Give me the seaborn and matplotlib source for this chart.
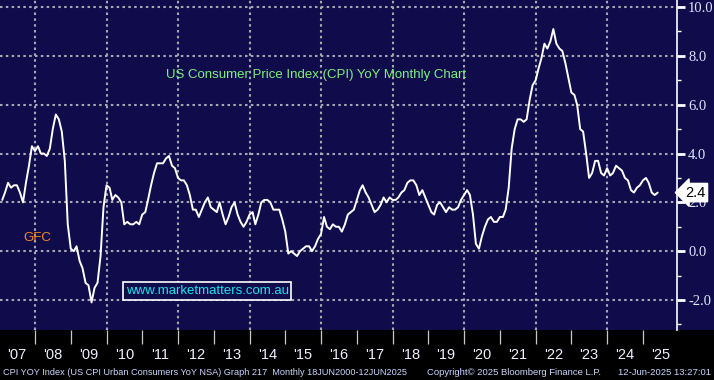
import datetime as dt
import pandas as pd
import matplotlib
matplotlib.use("Agg")
import matplotlib.pyplot as plt
import matplotlib.dates as mdates
import matplotlib.transforms as mtransforms
from matplotlib.patches import Rectangle
from matplotlib.ticker import MultipleLocator, NullFormatter
import seaborn as sns

# ---- DATA: US CPI YoY (%), monthly, Jan 2007 .. May 2025 ----
cpi_2007 = [2.1, 2.4, 2.8, 2.6, 2.7, 2.7, 2.4, 2.0, 2.8, 3.5, 4.3, 4.1]
cpi_2008 = [4.3, 4.0, 4.0, 3.9, 4.2, 5.0, 5.6, 5.4, 4.9, 3.7, 1.1, 0.1]
cpi_2009 = [0.0, 0.2, -0.4, -0.7, -1.3, -1.4, -2.1, -1.5, -1.3, -0.2, 1.8, 2.7]
cpi_2010 = [2.6, 2.1, 2.3, 2.2, 2.0, 1.1, 1.2, 1.1, 1.1, 1.2, 1.1, 1.5]
cpi_2011 = [1.6, 2.1, 2.7, 3.2, 3.6, 3.6, 3.6, 3.8, 3.9, 3.5, 3.4, 3.0]
cpi_2012 = [2.9, 2.9, 2.7, 2.3, 1.7, 1.7, 1.4, 1.7, 2.0, 2.2, 1.8, 1.7]
cpi_2013 = [1.6, 2.0, 1.5, 1.1, 1.4, 1.8, 2.0, 1.5, 1.2, 1.0, 1.2, 1.5]
cpi_2014 = [1.6, 1.1, 1.5, 2.0, 2.1, 2.1, 2.0, 1.7, 1.7, 1.7, 1.3, 0.8]
cpi_2015 = [-0.1, 0.0, -0.1, -0.2, 0.0, 0.1, 0.2, 0.2, 0.0, 0.2, 0.5, 0.7]
cpi_2016 = [1.4, 1.0, 0.9, 1.1, 1.0, 1.0, 0.8, 1.1, 1.5, 1.6, 1.7, 2.1]
cpi_2017 = [2.5, 2.7, 2.4, 2.2, 1.9, 1.6, 1.7, 1.9, 2.2, 2.0, 2.2, 2.1]
cpi_2018 = [2.1, 2.2, 2.4, 2.5, 2.8, 2.9, 2.9, 2.7, 2.3, 2.5, 2.2, 1.9]
cpi_2019 = [1.6, 1.5, 1.9, 2.0, 1.8, 1.6, 1.8, 1.7, 1.7, 1.8, 2.1, 2.3]
cpi_2020 = [2.5, 2.3, 1.5, 0.3, 0.1, 0.6, 1.0, 1.3, 1.4, 1.2, 1.2, 1.4]
cpi_2021 = [1.4, 1.7, 2.6, 4.2, 5.0, 5.4, 5.4, 5.3, 5.4, 6.2, 6.8, 7.0]
cpi_2022 = [7.5, 7.9, 8.5, 8.3, 8.6, 9.1, 8.5, 8.3, 8.2, 7.7, 7.1, 6.5]
cpi_2023 = [6.4, 6.0, 5.0, 4.9, 4.0, 3.0, 3.2, 3.7, 3.7, 3.2, 3.1, 3.4]
cpi_2024 = [3.1, 3.2, 3.5, 3.4, 3.3, 3.0, 2.9, 2.5, 2.4, 2.6, 2.7, 2.9]
cpi_2025 = [3.0, 2.8, 2.4, 2.3, 2.4]

years = list(range(2007, 2026))
year_labels = ["'" + str(y)[2:] for y in years]
y_major = [-2, 0, 2, 4, 6, 8, 10]

title = "US Consumer Price Index (CPI) YoY Monthly Chart"
footer_left = "CPI YOY Index (US CPI Urban Consumers YoY NSA) Graph 217  Monthly 18JUN2000-12JUN2025"
footer_mid = "Copyright\u00a9 2025 Bloomberg Finance L.P."
footer_right = "12-Jun-2025 13:27:01"

values = (cpi_2007 + cpi_2008 + cpi_2009 + cpi_2010 + cpi_2011 + cpi_2012 + cpi_2013
          + cpi_2014 + cpi_2015 + cpi_2016 + cpi_2017 + cpi_2018 + cpi_2019 + cpi_2020
          + cpi_2021 + cpi_2022 + cpi_2023 + cpi_2024 + cpi_2025)
df = pd.DataFrame({
    "date": pd.date_range("2007-01-31", periods=len(values), freq="ME"),
    "cpi": values,
})

# ---- STYLE ----
navy = "#100c4b"
grid_col = "#a7a7b4"
label_col = "#dde6ff"

sns.set_style("dark")
plt.rcParams["font.family"] = ["Liberation Sans", "DejaVu Sans"]

fig = plt.figure(figsize=(7.14, 3.80), dpi=100, facecolor=navy)
ax = fig.add_axes([0.0, 1 - 330 / 380, 677 / 714, 330 / 380])
ax.set_facecolor(navy)

# black band under the plot (drawn behind the axes so tick labels stay on top)
fig.patches.append(Rectangle((0, 0), 1, 1 - 330 / 380, transform=fig.transFigure,
                             facecolor="black", edgecolor="none", zorder=-5))

sns.lineplot(data=df, x="date", y="cpi", ax=ax, color="white", linewidth=1.4, zorder=5)

ax.set_xlim(dt.datetime(2007, 1, 8), dt.datetime(2025, 12, 14))
ax.set_ylim(-3.23, 10.29)

# gridlines: horizontal at labelled values, vertical every second year
for v in y_major:
    ax.axhline(v, color=grid_col, linestyle=(0, (1.2, 1.6)), linewidth=1.5, zorder=1)
for y in years:
    if y % 2 == 0:
        ax.axvline(dt.datetime(y, 1, 1), color=grid_col, linestyle=(0, (1.2, 1.6)),
                   linewidth=1.5, zorder=1)

# x axis: year separators + labels mid-year
ax.xaxis.set_major_locator(mdates.YearLocator())
ax.xaxis.set_major_formatter(NullFormatter())
ax.set_xticks([mdates.date2num(dt.datetime(y, 7, 1)) for y in years], minor=True)
ax.set_xticklabels(year_labels, minor=True)
ax.tick_params(axis="x", which="major", direction="out", length=10, width=0.9,
               color="#c8c8c8", bottom=True)
ax.tick_params(axis="x", which="minor", length=0, pad=13, labelsize=10.5,
               labelcolor="#eef0ff", bottom=True, labelbottom=True)

# y axis on the right
ax.yaxis.tick_right()
ax.set_yticks(y_major)
ax.set_yticklabels([f"{v:.1f}" for v in y_major], family="Liberation Serif")
ax.yaxis.set_minor_locator(MultipleLocator(1))
ax.tick_params(axis="y", which="major", direction="out", length=6, width=2.0,
               color="white", labelsize=10.5, labelcolor=label_col, pad=2, right=True)
ax.tick_params(axis="y", which="minor", direction="out", length=3, width=1.0,
               color="white", right=True)

ax.set_xlabel("")
ax.set_ylabel("")
ax.grid(False)
for side in ["top", "left", "bottom"]:
    ax.spines[side].set_visible(False)
ax.spines["right"].set_color("white")
ax.spines["right"].set_linewidth(1.2)

# annotations
ax.text(0.467, 0.772, title, transform=ax.transAxes, ha="center", va="center",
        color="#7cf07c", fontsize=9.5)
ax.text(0.055, 0.278, "GFC", transform=ax.transAxes, ha="center", va="center",
        color="#f08a1c", fontsize=9.5)
ax.text(0.306, 0.118, "www.marketmatters.com.au", transform=ax.transAxes,
        ha="center", va="center", color="#19e3f3", fontsize=9.5,
        bbox=dict(boxstyle="square,pad=0.2", facecolor=navy, edgecolor="white",
                  linewidth=1.2), zorder=6)

# last value tag
last = df["cpi"].iloc[-1]
tag_trans = mtransforms.blended_transform_factory(ax.transAxes, ax.transData)
ax.text(1.012, last, f"{last:.1f}", transform=tag_trans, ha="left", va="center",
        color="black", fontsize=10.5, clip_on=False, zorder=7,
        bbox=dict(boxstyle="larrow,pad=0.15", facecolor="white", edgecolor="white"))

# footer
fig.text(0.004, 0.021, footer_left, color="#c9d6ff", fontsize=6.6, ha="left", va="center")
fig.text(0.598, 0.021, footer_mid, color="#c9d6ff", fontsize=6.8, ha="left", va="center")
fig.text(0.996, 0.021, footer_right, color="#c9d6ff", fontsize=6.8, ha="right", va="center")

fig.savefig("out.png", dpi=100, facecolor=navy)
